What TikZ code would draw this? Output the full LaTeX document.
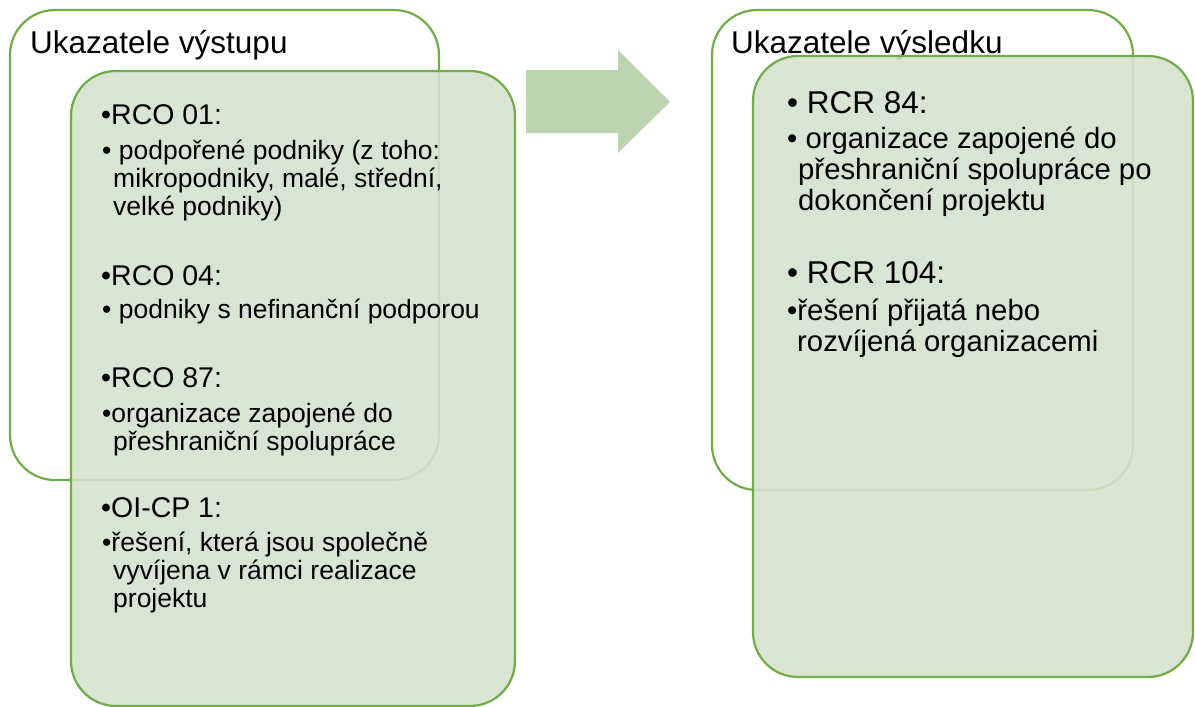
\documentclass[tikz,border=0pt]{standalone}
\usepackage{fontspec}
\setmainfont{Liberation Sans}
\usetikzlibrary{positioning}
\definecolor{framegreen}{RGB}{112,173,71}
\definecolor{boxgreen}{RGB}{213,225,206}
\definecolor{arrowgreen}{RGB}{188,212,177}

\begin{document}
\begin{tikzpicture}[x=1pt, y=-1pt,
    outerbox/.style={draw=framegreen, line width=2.2pt, rounded corners=45pt},
    innerbox/.style={outerbox, fill=boxgreen, fill opacity=0.9},
    titletext/.style={anchor=base west, inner sep=0pt, font=\fontsize{31.5}{36}\selectfont},
    headleft/.style={anchor=base west, inner sep=0pt, font=\fontsize{28.5}{32}\selectfont},
    subleft/.style={anchor=base west, inner sep=0pt, align=left, font=\fontsize{26.5}{28}\selectfont},
    headright/.style={anchor=base west, inner sep=0pt, font=\fontsize{31.5}{35}\selectfont},
    subright/.style={anchor=base west, inner sep=0pt, align=left, font=\fontsize{29.3}{31}\selectfont}]
    \useasboundingbox (0,0) rectangle (1195,707);

    % Left group: output indicators (multi-line nodes sit on their last baseline)
    \draw[outerbox] (10,10) rectangle (439,480);
    \node[titletext] (outtitle) at (30,53) {Ukazatele výstupu};
    \draw[innerbox] (71,71) rectangle (515,706);

    \node[headleft] (rco01) at (101,124) {•RCO 01:};
    \node[subleft] (rco01txt) at (102,215) {• podpořené podniky (z toho:\\
        \hspace*{11pt}mikropodniky, malé, střední,\\
        \hspace*{11pt}velké podniky)};
    \node[headleft] (rco04) at (101,285) {•RCO 04:};
    \node[subleft] (rco04txt) at (102,318) {• podniky s nefinanční podporou};
    \node[headleft] (rco87) at (101,387) {•RCO 87:};
    \node[subleft] (rco87txt) at (102,450) {•organizace zapojené do\\
        \hspace*{11pt}přeshraniční spolupráce};
    \node[headleft] (oicp1) at (101,517) {•OI-CP 1:};
    \node[subleft] (oicp1txt) at (102,607) {•řešení, která jsou společně\\
        \hspace*{11pt}vyvíjena v rámci realizace\\
        \hspace*{11pt}projektu};

    % Block arrow
    \fill[arrowgreen] (526,70) -- (618,70) -- (618,50) -- (670,102)
        -- (618,153) -- (618,133) -- (526,133) -- cycle;

    % Right group: result indicators
    \draw[outerbox] (712,10) rectangle (1133,490);
    \node[titletext] (restitle) at (731,53) {Ukazatele výsledku};
    \draw[innerbox] (753,56) rectangle (1193,677);

    \node[headright] (rcr84) at (787,113) {• RCR 84:};
    \node[subright] (rcr84txt) at (787,210) {• organizace zapojené do\\
        \hspace*{11pt}přeshraniční spolupráce po\\
        \hspace*{11pt}dokončení projektu};
    \node[headright] (rcr104) at (787,283) {• RCR 104:};
    \node[subright] (rcr104txt) at (787,351) {•řešení přijatá nebo\\
        \hspace*{10pt}rozvíjená organizacemi};
\end{tikzpicture}
\end{document}
